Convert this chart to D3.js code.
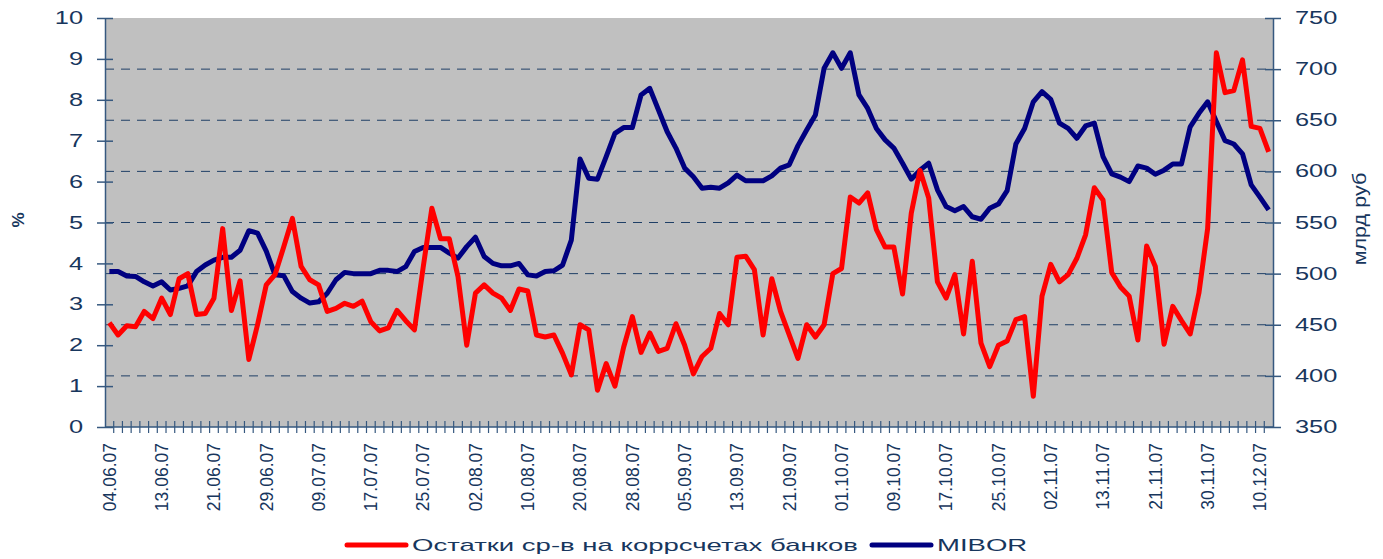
<!DOCTYPE html>
<html>
<head>
<meta charset="utf-8">
<script src="https://cdn.jsdelivr.net/npm/d3@7"></script>
<style>
  body { margin: 0; background: #fff; }
  text { font-family: Arial, "Liberation Sans", sans-serif; fill: #17365d; }
</style>
</head>
<body>
<svg id="chart" width="1383" height="559"></svg>
<script>
// торговые дни (категории оси X)
const dates = [
  '04.06.07', '05.06.07', '06.06.07', '07.06.07', '08.06.07', '11.06.07', '13.06.07', '14.06.07', '15.06.07', '18.06.07',
  '19.06.07', '20.06.07', '21.06.07', '22.06.07', '25.06.07', '26.06.07', '27.06.07', '28.06.07', '29.06.07',
  '02.07.07', '03.07.07', '04.07.07', '05.07.07', '06.07.07', '09.07.07', '10.07.07', '11.07.07', '12.07.07', '13.07.07',
  '16.07.07', '17.07.07', '18.07.07', '19.07.07', '20.07.07', '23.07.07', '24.07.07', '25.07.07', '26.07.07', '27.07.07',
  '30.07.07', '31.07.07',
  '01.08.07', '02.08.07', '03.08.07', '06.08.07', '07.08.07', '08.08.07', '09.08.07', '10.08.07', '13.08.07', '14.08.07',
  '15.08.07', '16.08.07', '17.08.07', '20.08.07', '21.08.07', '22.08.07', '23.08.07', '24.08.07', '27.08.07', '28.08.07',
  '29.08.07', '30.08.07', '31.08.07',
  '03.09.07', '04.09.07', '05.09.07', '06.09.07', '07.09.07', '10.09.07', '11.09.07', '12.09.07', '13.09.07', '14.09.07',
  '17.09.07', '18.09.07', '19.09.07', '20.09.07', '21.09.07', '24.09.07', '25.09.07', '26.09.07', '27.09.07', '28.09.07',
  '01.10.07', '02.10.07', '03.10.07', '04.10.07', '05.10.07', '08.10.07', '09.10.07', '10.10.07', '11.10.07', '12.10.07',
  '15.10.07', '16.10.07', '17.10.07', '18.10.07', '19.10.07', '22.10.07', '23.10.07', '24.10.07', '25.10.07', '26.10.07',
  '29.10.07', '30.10.07', '31.10.07',
  '01.11.07', '02.11.07', '06.11.07', '07.11.07', '08.11.07', '09.11.07', '12.11.07', '13.11.07', '14.11.07', '15.11.07',
  '16.11.07', '19.11.07', '20.11.07', '21.11.07', '22.11.07', '26.11.07', '27.11.07', '28.11.07', '29.11.07', '30.11.07',
  '03.12.07', '04.12.07', '05.12.07', '06.12.07', '07.12.07', '10.12.07', '11.12.07',
]

// Остатки ср-в на коррсчетах банков, млрд руб (правая ось)
const balances = [
  452, 440, 449, 448, 463, 456, 476, 460, 495, 500,
  460, 461, 476, 544, 464, 493, 416, 450, 489, 499,
  526, 554, 507, 494, 489, 463, 466, 471, 468, 473,
  453, 444, 447, 464, 454, 445, 506, 564, 534, 534,
  497, 430, 481, 489, 481, 476, 464, 485, 483, 440,
  438, 440, 422, 401, 450, 445, 386, 412, 390, 428,
  458, 423, 442, 424, 427, 451, 430, 402, 419, 427,
  461, 450, 516, 517, 504, 440, 495, 463, 440, 417,
  450, 438, 450, 500, 505, 575, 569, 579, 543, 526,
  526, 480, 559, 601, 574, 492, 476, 499, 441, 512,
  432, 409, 430, 434, 455, 458, 380, 478, 509, 492,
  499, 515, 538, 584, 572, 501, 487, 478, 435, 527,
  507, 431, 468, 454, 441, 481, 544, 716, 677, 679,
  709, 644, 642, 619,
]

// MIBOR, % (левая ось)
const mibor = [
  3.80, 3.80, 3.69, 3.68, 3.55, 3.45, 3.55, 3.35, 3.39, 3.45,
  3.80, 3.96, 4.08, 4.15, 4.15, 4.32, 4.80, 4.74, 4.30, 3.72,
  3.70, 3.31, 3.15, 3.03, 3.06, 3.27, 3.60, 3.78, 3.75, 3.75,
  3.75, 3.83, 3.83, 3.80, 3.92, 4.29, 4.39, 4.39, 4.39, 4.25,
  4.13, 4.41, 4.64, 4.17, 4.00, 3.94, 3.94, 4.00, 3.72, 3.69,
  3.80, 3.82, 3.96, 4.57, 6.55, 6.08, 6.06, 6.61, 7.18, 7.32,
  7.32, 8.12, 8.28, 7.75, 7.22, 6.82, 6.33, 6.12, 5.84, 5.86,
  5.84, 5.97, 6.16, 6.02, 6.02, 6.02, 6.14, 6.33, 6.41, 6.88,
  7.26, 7.63, 8.77, 9.15, 8.77, 9.15, 8.12, 7.79, 7.30, 7.02,
  6.82, 6.45, 6.06, 6.28, 6.45, 5.80, 5.39, 5.29, 5.39, 5.14,
  5.08, 5.35, 5.45, 5.78, 6.92, 7.30, 7.95, 8.20, 8.01, 7.43,
  7.30, 7.06, 7.36, 7.43, 6.61, 6.19, 6.11, 6.00, 6.38, 6.33,
  6.18, 6.28, 6.43, 6.43, 7.34, 7.67, 7.95, 7.47, 7.00, 6.92,
  6.68, 5.92, 5.62, 5.31,
]

const leftTicks = d3.range(0, 11)
const rightTicks = d3.range(350, 751, 50)
const labelEvery = 6
const seriesNames = ['Остатки ср-в на коррсчетах банков', 'MIBOR']

const plot = { left: 105, right: 1273, top: 18, bottom: 427 }
const axisColor = '#36587f'
// горизонтальный текст в оригинале растянут по ширине
const tickStretch = 1.45
const legendStretch = 1.62

const svg = d3.select('#chart')

const x = d3.scaleBand().domain(dates).range([plot.left, plot.right])
const cx = d => x(d) + x.bandwidth() / 2
const yL = d3.scaleLinear().domain([0, 10]).range([plot.bottom, plot.top])
const yR = d3.scaleLinear().domain([350, 750]).range([plot.bottom, plot.top])

svg.append('rect')
  .attr('width', 1383).attr('height', 559).attr('fill', '#fff')

svg.append('rect')
  .attr('x', plot.left).attr('y', plot.top)
  .attr('width', plot.right - plot.left).attr('height', plot.bottom - plot.top)
  .attr('fill', '#c0c0c0')

// пунктирная сетка по правой оси
svg.append('g')
  .selectAll('line')
  .data(rightTicks.filter(t => t > 350 && t < 750))
  .join('line')
  .attr('x1', plot.left).attr('x2', plot.right)
  .attr('y1', d => yR(d)).attr('y2', d => yR(d))
  .attr('stroke', '#1f3f66')
  .attr('stroke-width', 1)
  .attr('stroke-dasharray', '9,7')

// линии
const lineL = d3.line().x((d, i) => cx(dates[i])).y(d => yL(d))
const lineR = d3.line().x((d, i) => cx(dates[i])).y(d => yR(d))

svg.append('path')
  .datum(mibor)
  .attr('fill', 'none')
  .attr('stroke', '#000080')
  .attr('stroke-width', 5)
  .attr('stroke-linejoin', 'round')
  .attr('d', lineL)

svg.append('path')
  .datum(balances)
  .attr('fill', 'none')
  .attr('stroke', '#ff0000')
  .attr('stroke-width', 5)
  .attr('stroke-linejoin', 'round')
  .attr('d', lineR)

// левая ось
const gL = svg.append('g')
  .attr('transform', `translate(${plot.left},0)`)
  .call(d3.axisLeft(yL).tickValues(leftTicks).tickSize(8).tickSizeOuter(0))
gL.select('.domain').attr('stroke', axisColor).attr('stroke-width', 1.5)
gL.selectAll('.tick line').attr('x1', 8).attr('stroke', axisColor).attr('stroke-width', 1.5)
gL.selectAll('.tick text')
  .attr('x', -22 / tickStretch)
  .attr('transform', `scale(${tickStretch},1)`)
  .attr('font-size', 17.5)
  .attr('fill', '#17365d')

// правая ось
const gR = svg.append('g')
  .attr('transform', `translate(${plot.right},0)`)
  .call(d3.axisRight(yR).tickValues(rightTicks).tickSize(8).tickSizeOuter(0))
gR.select('.domain').attr('stroke', axisColor).attr('stroke-width', 1.5)
gR.selectAll('.tick line').attr('x1', -8).attr('stroke', axisColor).attr('stroke-width', 1.5)
gR.selectAll('.tick text')
  .attr('x', 22 / tickStretch)
  .attr('transform', `scale(${tickStretch},1)`)
  .attr('font-size', 17.5)
  .attr('fill', '#17365d')

// ось X
svg.append('line')
  .attr('x1', plot.left).attr('x2', plot.right)
  .attr('y1', plot.bottom).attr('y2', plot.bottom)
  .attr('stroke', axisColor).attr('stroke-width', 1.5)

svg.append('g')
  .selectAll('line')
  .data(dates.slice(1))
  .join('line')
  .attr('x1', d => x(d)).attr('x2', d => x(d))
  .attr('y1', plot.bottom - 6).attr('y2', plot.bottom + 6)
  .attr('stroke', axisColor).attr('stroke-width', 1.2)

svg.append('g')
  .selectAll('text')
  .data(dates.filter((d, i) => i % labelEvery === 0))
  .join('text')
  .attr('transform', d => `translate(${cx(d)},443) rotate(-90)`)
  .attr('text-anchor', 'end')
  .attr('dy', '0.36em')
  .attr('font-size', 17.5)
  .text(d => d)

// подписи осей
svg.append('text')
  .attr('transform', 'translate(17.5,220) rotate(-90)')
  .attr('text-anchor', 'middle')
  .attr('dy', '0.36em')
  .attr('font-size', 17)
  .attr('font-weight', 'bold')
  .text('%')

svg.append('text')
  .attr('transform', 'translate(1361,219) rotate(-90) scale(1.2,1)')
  .attr('text-anchor', 'middle')
  .attr('dy', '0.3em')
  .attr('font-size', 18)
  .text('млрд руб')

// легенда
const legend = svg.append('g').attr('transform', 'translate(0,545)')
const legendItems = [
  { name: seriesNames[0], color: '#ff0000', x: 347 },
  { name: seriesNames[1], color: '#000080', x: 872 },
]
legendItems.forEach(item => {
  legend.append('line')
    .attr('x1', item.x).attr('x2', item.x + 59)
    .attr('stroke', item.color).attr('stroke-width', 5)
    .attr('stroke-linecap', 'round')
  legend.append('text')
    .attr('transform', `translate(${item.x + 65},0) scale(${legendStretch},1)`)
    .attr('dy', '0.36em')
    .attr('font-size', 17)
    .text(item.name)
})
</script>
</body>
</html>
